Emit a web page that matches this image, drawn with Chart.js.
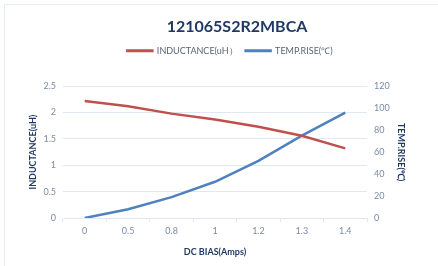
<!DOCTYPE html>
<html><head><meta charset="utf-8">
<script src="https://cdn.jsdelivr.net/npm/chart.js@4"></script>
<style>
html,body{margin:0;padding:0;background:#fff;overflow:hidden}
#wrap{position:relative;width:438px;height:266px}
#frame{position:absolute;left:4px;top:4px;width:460px;height:300px;border:1.5px solid #E6ECF5;box-sizing:border-box}
canvas{position:absolute;left:0;top:0}
</style></head><body>
<div id="wrap"><div id="frame"></div><canvas id="c" width="438" height="266"></canvas></div>
<script>
const categories = ['0', '0.5', '0.8', '1', '1.2', '1.3', '1.4'];
const inductance = [2.22, 2.12, 1.98, 1.87, 1.73, 1.56, 1.32];
const tempRise = [0, 8, 19, 33, 52, 75, 96];
const leftTicks = [0, 0.5, 1, 1.5, 2, 2.5];
const rightTicks = [0, 20, 40, 60, 80, 100, 120];

const FONT = "Lato, 'Open Sans', sans-serif";
const navy = '#1F3864';
const tickColor = '#7A8BA6';
const gridColor = '#E1E8F3';

const layoutFix = {
  id: 'layoutFix',
  beforeInit(chart) {
    const orig = chart.legend.fit;
    chart.legend.fit = function () { orig.call(this); this.height += 21; };
  },
  afterLayout(chart) {
    const t = chart.titleBlock;
    if (t) { t.left += 20; t.right += 20; }
    const l = chart.legend;
    if (l) { l.left += 13; l.right += 13; }
  }
};

new Chart(document.getElementById('c'), {
  type: 'line',
  data: {
    labels: categories,
    datasets: [
      { label: 'INDUCTANCE(uH）', data: inductance, yAxisID: 'y', borderColor: '#C0504D', backgroundColor: '#C0504D', borderWidth: 2.5, pointRadius: 0, tension: 0 },
      { label: 'TEMP.RISE(℃)', data: tempRise, yAxisID: 'y1', borderColor: '#4F81BD', backgroundColor: '#4F81BD', borderWidth: 2.5, pointRadius: 0, tension: 0 }
    ]
  },
  options: {
    responsive: false,
    animation: false,
    layout: { padding: { left: 28, right: 32, top: 0, bottom: 9 } },
    plugins: {
      title: { display: true, text: '121065S2R2MBCA', color: navy, font: { family: FONT, size: 16, weight: 'bold' }, padding: { top: 17, bottom: 2 } },
      legend: { display: true, position: 'top', labels: { color: '#5A6275', font: { family: FONT, size: 9 }, boxWidth: 25, boxHeight: 0.5, padding: 8 } },
      tooltip: { enabled: false }
    },
    scales: {
      x: {
        type: 'category', offset: true,
        grid: { offset: true, drawOnChartArea: false, drawTicks: true, tickLength: 4, color: gridColor },
        border: { color: gridColor },
        ticks: { color: tickColor, font: { family: FONT, size: 9 }, padding: 4, maxRotation: 0 },
        title: { display: true, text: 'DC BIAS(Amps)', color: navy, font: { family: FONT, size: 9, weight: 'bold' }, padding: 0 },
        afterFit(s) { s.height = 39; }
      },
      y: {
        position: 'left', min: 0, max: 2.5,
        afterBuildTicks(s) { s.ticks = leftTicks.map(v => ({ value: v })); },
        grid: { color: gridColor, drawTicks: false },
        border: { display: false },
        ticks: { color: tickColor, font: { family: FONT, size: 9 }, padding: 7, callback: v => String(v) },
        title: { display: true, text: 'INDUCTANCE(uH)', color: navy, font: { family: FONT, size: 9, weight: 'bold' }, padding: 0 },
        afterFit(s) { s.width = 35; }
      },
      y1: {
        position: 'right', min: 0, max: 120,
        afterBuildTicks(s) { s.ticks = rightTicks.map(v => ({ value: v })); },
        grid: { drawOnChartArea: false, drawTicks: false },
        border: { display: false },
        ticks: { color: tickColor, font: { family: FONT, size: 9 }, padding: 7, callback: v => String(v) },
        title: { display: true, text: 'TEMP.RISE(℃)', color: navy, font: { family: FONT, size: 9, weight: 'bold' }, padding: 0 },
        afterFit(s) { s.width = 39; }
      }
    }
  },
  plugins: [layoutFix]
});
</script>
</body></html>
